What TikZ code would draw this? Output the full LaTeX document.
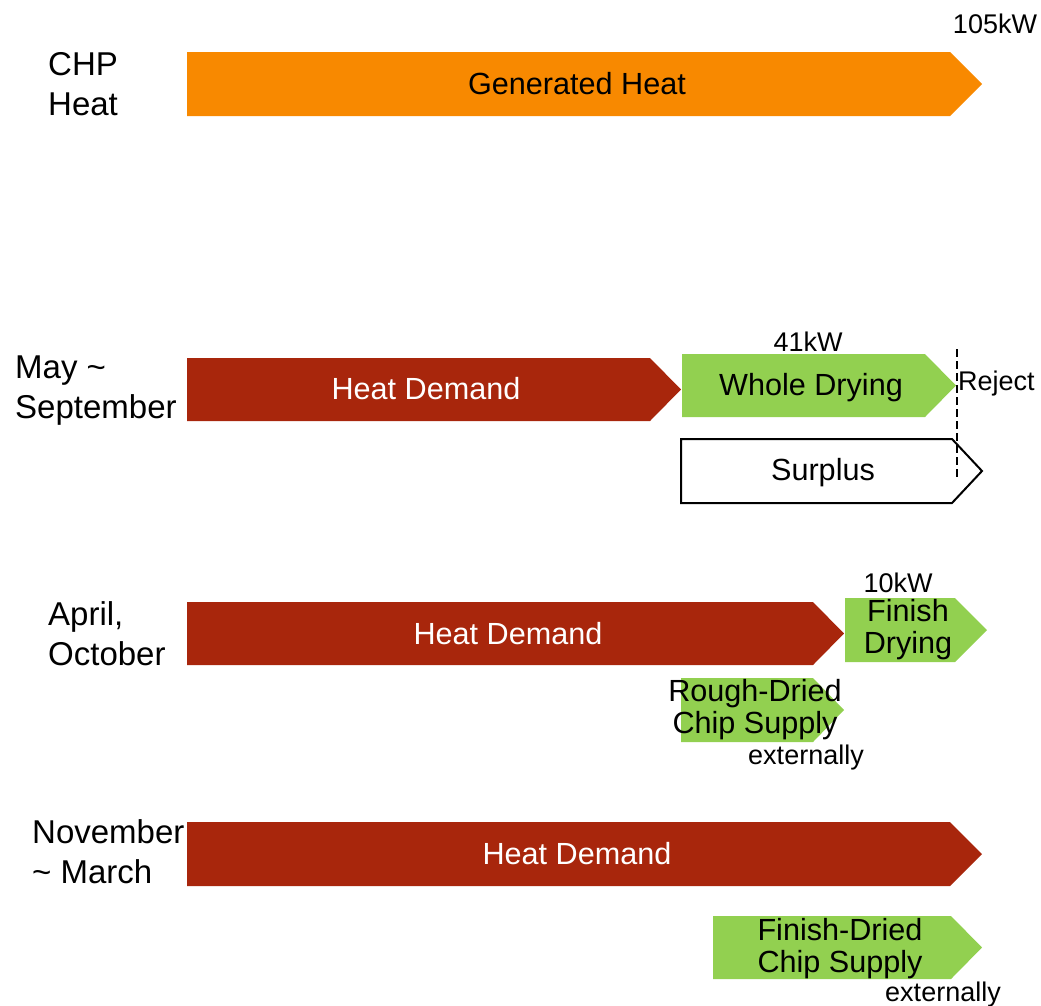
\documentclass[tikz,border=0pt]{standalone}
\usepackage{fontspec}
\setmainfont{Liberation Sans}
\definecolor{chporange}{HTML}{F88900}
\definecolor{demandred}{HTML}{A8260C}
\definecolor{dryinggreen}{HTML}{92D050}

\begin{document}
\begin{tikzpicture}[x=1pt,y=-1pt,
        chp/.style={fill=chporange},
        demand/.style={fill=demandred},
        drying/.style={fill=dryinggreen},
        surplus/.style={draw=black,line width=2pt,fill=white,line join=miter},
        big/.style={font=\fontsize{30.6}{32}\selectfont,inner sep=0pt,align=center},
        small/.style={font=\fontsize{27}{28}\selectfont,inner sep=0pt},
        season/.style={font=\fontsize{33}{40}\selectfont,inner sep=0pt,align=left,anchor=west}
      ]
      \useasboundingbox (0,0) rectangle (1041,1005);
      % CHP heat
      \fill [chp] (187,52) -- (950,52) -- (982,84) -- (950,116) -- (187,116) -- cycle;
      \node [season] (chplabel) at (48,84) {CHP\\Heat};
      \node [big,anchor=base] (generated) at (577,94) {Generated Heat};
      \node [small,anchor=base] (total) at (995,33) {105kW};

      % May ~ September
      \fill [demand] (187,358) -- (650,358) -- (681,389.5) -- (650,421) -- (187,421) -- cycle;
      \fill [drying] (682,354) -- (925,354) -- (956,385.5) -- (925,417) -- (682,417) -- cycle;
      \draw [surplus] (681,439) -- (952,439) -- (982,471) -- (952,503) -- (681,503) -- cycle;
      \draw [line width=2.2pt,dash pattern=on 8pt off 4pt] (957,349) -- (957,477);
      \node [season] (summer) at (15,391) {May \textasciitilde\\September};
      \node [big,anchor=base,white] (demanda) at (426,399) {Heat Demand};
      \node [big,anchor=base] (whole) at (811,395) {Whole Drying};
      \node [small,anchor=base] (wholekw) at (808,351) {41kW};
      \node [small,anchor=base west] (reject) at (958,390) {Reject};
      \node [big,anchor=base] (surplus) at (823,480) {Surplus};

      % April, October
      \fill [demand] (187,602) -- (813,602) -- (844,633.5) -- (813,665) -- (187,665) -- cycle;
      \fill [drying] (845,598) -- (955,598) -- (987,630) -- (955,662) -- (845,662) -- cycle;
      \fill [drying] (681,678) -- (813,678) -- (844,710) -- (813,742) -- (681,742) -- cycle;
      \node [season] (autumn) at (48,634) {April,\\October};
      \node [big,anchor=base,white] (demandb) at (508,644) {Heat Demand};
      \node [big] (finish) at (908,630) {Finish\\Drying};
      \node [small,anchor=base] (finishkw) at (898,592) {10kW};
      \node [big] (rough) at (755,710) {Rough-Dried\\Chip Supply};
      \node [small,anchor=base] (roughext) at (806,764) {externally};

      % November ~ March
      \fill [demand] (187,822) -- (950,822) -- (982,854) -- (950,886) -- (187,886) -- cycle;
      \fill [drying] (713,916) -- (951,916) -- (982,947.5) -- (951,979) -- (713,979) -- cycle;
      \node [season] (winter) at (32,852) {November\\\textasciitilde{} March};
      \node [big,anchor=base,white] (demandc) at (577,864) {Heat Demand};
      \node [big] (finished) at (840,949) {Finish-Dried\\Chip Supply};
      \node [small,anchor=base] (finishedext) at (943,1001) {externally};
    \end{tikzpicture}
\end{document}
